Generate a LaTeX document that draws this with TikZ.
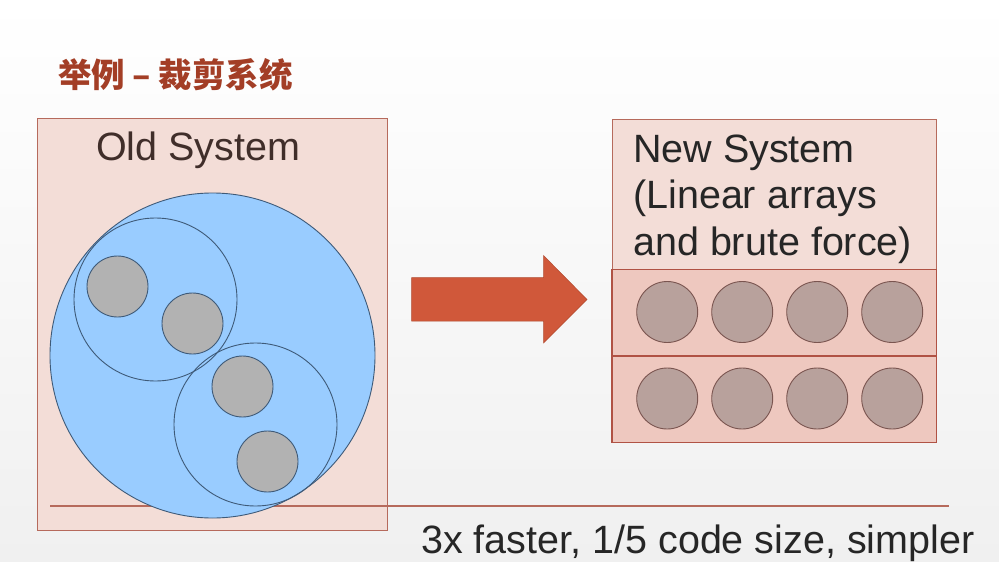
\documentclass[tikz,border=0pt]{standalone}
\usepackage{fontspec}
\setmainfont{Liberation Sans}
\newfontfamily\cjk{Noto Sans CJK SC}
\definecolor{bggray}{RGB}{240,240,240}
\definecolor{titlered}{RGB}{163,62,38}
\definecolor{boxfill}{RGB}{243,221,215}
\definecolor{boxline}{RGB}{182,106,92}
\definecolor{rowfill}{RGB}{238,200,191}
\definecolor{rowline}{RGB}{176,82,68}
\definecolor{cellblue}{RGB}{153,204,255}
\definecolor{cellline}{RGB}{62,90,120}
\definecolor{itemgray}{RGB}{178,178,178}
\definecolor{itembrown}{RGB}{184,161,156}
\definecolor{itemline}{RGB}{122,85,80}
\definecolor{arrowred}{RGB}{208,88,58}
\definecolor{oldtext}{RGB}{64,46,42}
\definecolor{darktext}{RGB}{38,38,38}

\begin{document}
\begin{tikzpicture}[x=1pt, y=-1pt,
    sysbox/.style={draw=boxline, fill=boxfill, line width=0.8pt},
    rowbox/.style={draw=rowline, fill=rowfill, line width=1.1pt},
    cell/.style={draw=cellline, fill=cellblue, line width=0.9pt},
    subcell/.style={draw=cellline, line width=0.9pt},
    olditem/.style={draw=cellline, fill=itemgray, line width=0.9pt},
    newitem/.style={draw=itemline, fill=itembrown, line width=0.9pt},
    bigtxt/.style={inner sep=0pt, anchor=base west, font=\fontsize{39.5}{46.5}\selectfont}]

  % slide background
  \useasboundingbox (0,0) rectangle (999,562);
  \fill[top color=white, bottom color=bggray] (0,0) rectangle (999,562);

  % title
  \node[inner sep=0pt, text=titlered, font=\cjk\bfseries\fontsize{33.5}{33.5}\selectfont]
    (title) at (175.5,75) {举例 – 裁剪系统};

  % old system: nested circles in a box
  \draw[sysbox] (37,118) rectangle (387,530);
  \draw[boxline, line width=1.2pt] (50,506) coordinate (L) -- (949,506) coordinate (R);
  \draw[cell] (212.5,355.5) circle[radius=162.5];
  \draw[subcell] (155.5,299.5) circle[radius=81.5];
  \draw[subcell] (255.5,424.5) circle[radius=81.5];
  \foreach \x/\y in {117.5/286.5, 192.5/323.5, 242.5/386.5, 267.5/461.5}
    \draw[olditem] (\x,\y) circle[radius=30.5];
  \node[bigtxt, text=oldtext] (old) at (96,160) {Old System};

  % arrow
  \fill[arrowred, draw=arrowred!85!black, line width=0.5pt]
    (411.5,277.5) -- (543.5,277.5) -- (543.5,255.5) -- (587,299.5)
    -- (543.5,343) -- (543.5,321) -- (411.5,321) -- cycle;

  % new system: two linear arrays
  \draw[sysbox] (612,119) rectangle (936.5,269.5);
  \foreach \r/\top in {1/269.5, 2/356} {
    \draw[rowbox] (612,\top) rectangle (936.5,\top+86.5);
    \foreach \c in {0,...,3}
      \draw[newitem] (667.2+75*\c,\top+42.5) circle[radius=30.5];
  }
  \node[bigtxt, text=darktext] (new1) at (633,162) {New System};
  \node[bigtxt, text=darktext] (new2) at ([yshift=-46.5pt]new1.base west) {(Linear arrays};
  \node[bigtxt, text=darktext] (new3) at ([yshift=-46.5pt]new2.base west) {and brute force)};

  % result
  \node[bigtxt, text=darktext] (res) at (421,553) {3x faster, 1/5 code size, simpler};
\end{tikzpicture}
\end{document}
